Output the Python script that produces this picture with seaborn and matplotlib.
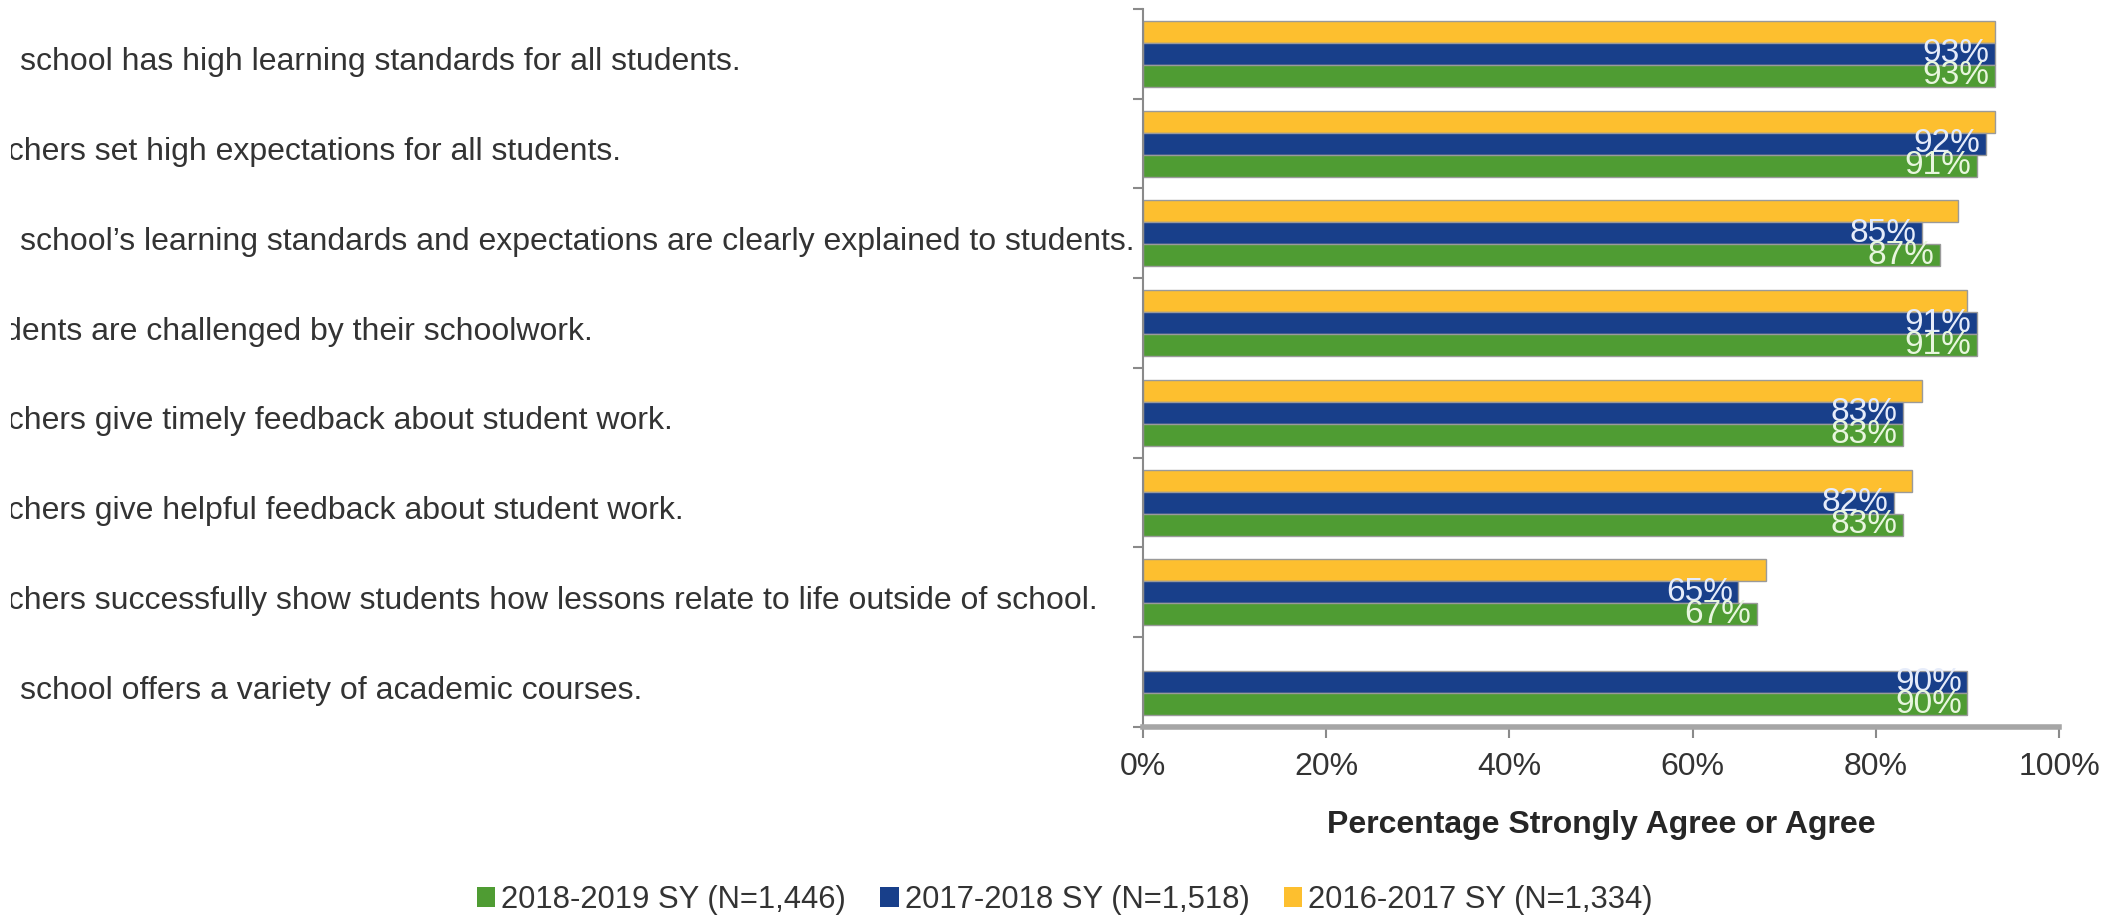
import numpy as np
import pandas as pd
import matplotlib
matplotlib.use('Agg')
from matplotlib import pyplot as plt
from matplotlib import transforms
from matplotlib.patches import Patch
import seaborn as sns

questions = [
    'The school has high learning standards for all students.',
    'Teachers set high expectations for all students.',
    'The school\u2019s learning standards and expectations are clearly explained to students.',
    'Students are challenged by their schoolwork.',
    'Teachers give timely feedback about student work.',
    'Teachers give helpful feedback about student work.',
    'Teachers successfully show students how lessons relate to life outside of school.',
    'The school offers a variety of academic courses.',
]
years = ['2016-2017 SY (N=1,334)', '2017-2018 SY (N=1,518)', '2018-2019 SY (N=1,446)']
sy_2016 = [93, 93, 89, 90, 85, 84, 68, np.nan]
sy_2017 = [93, 92, 85, 91, 83, 82, 65, 90]
sy_2018 = [93, 91, 87, 91, 83, 83, 67, 90]
colors = ['#FDBF2F', '#183F8A', '#4F9C33']
legend_order = [2, 1, 0]

rows = []
for year, vals in zip(years, [sy_2016, sy_2017, sy_2018]):
    for q, v in zip(questions, vals):
        rows.append({'question': q, 'year': year, 'pct': v})
df = pd.DataFrame(rows).dropna()

sns.set_style('white')
plt.rcParams['font.family'] = ['Liberation Sans', 'DejaVu Sans']

fig = plt.figure(figsize=(21.21, 9.17), dpi=100)
ax = fig.add_axes([0.5389, 0.2072, 0.4319, 0.783])

sns.barplot(data=df, x='pct', y='question', hue='year', order=questions, hue_order=years,
            palette=colors, saturation=1, orient='h', width=0.735, dodge=True, ax=ax,
            edgecolor='#9a9a9a', linewidth=1, legend=False)

# value labels on the two most recent years
for cont, col in zip(ax.containers[1:], ['#E6ECFA', '#E8F6DE']):
    texts = ax.bar_label(cont, fmt='{:.0f}%', padding=-4, fontsize=24, color=col)
    for t in texts:
        t.set_ha('right')

ax.set_xlim(0, 100)
ax.set_ylim(len(questions) - 0.5, -0.5)
ax.set_xticks(np.arange(0, 101, 20))
ax.set_xticklabels([f'{v}%' for v in range(0, 101, 20)])
ax.tick_params(axis='x', labelsize=23, labelcolor='#333333', direction='out', length=8,
               width=1.5, color='#8a8a8a', pad=10, bottom=True)
ax.set_yticks(np.arange(len(questions) + 1) - 0.5)
ax.set_yticklabels([])
ax.tick_params(axis='y', direction='out', length=7, width=1.5, color='#8a8a8a', left=True)

# category texts, left aligned and cut at the left like the original
tr = transforms.blended_transform_factory(fig.transFigure, ax.transData)
tr = transforms.offset_copy(tr, fig=fig, x=-44, y=-5, units='dots')
clip = transforms.TransformedBbox(transforms.Bbox([[11 / 2121, 0], [1, 1]]), fig.transFigure)
for i, q in enumerate(questions):
    t = ax.text(0, i, q, transform=tr, ha='left', va='center_baseline',
                fontsize=23, color='#333333')
    t.set_clip_box(clip)
    t.set_clip_on(True)

ax.set_xlabel('Percentage Strongly Agree or Agree', fontsize=23, fontweight='bold',
              color='#262626', labelpad=20)
ax.set_ylabel('')

for s in ['top', 'right']:
    ax.spines[s].set_visible(False)
ax.spines['left'].set_color('#8a8a8a')
ax.spines['left'].set_linewidth(1.5)
ax.spines['bottom'].set_color('#a6a6a6')
ax.spines['bottom'].set_linewidth(4)

handles = [Patch(facecolor=colors[i], edgecolor='none', label=years[i]) for i in legend_order]
fig.legend(handles=handles, loc='center', bbox_to_anchor=(0.502, 0.0185), ncol=3,
           frameon=False, fontsize=22.3, handlelength=0.6, handleheight=0.6,
           handletextpad=0.2, columnspacing=1.1, labelcolor='#333333')

fig.savefig('out.png', dpi=100)
